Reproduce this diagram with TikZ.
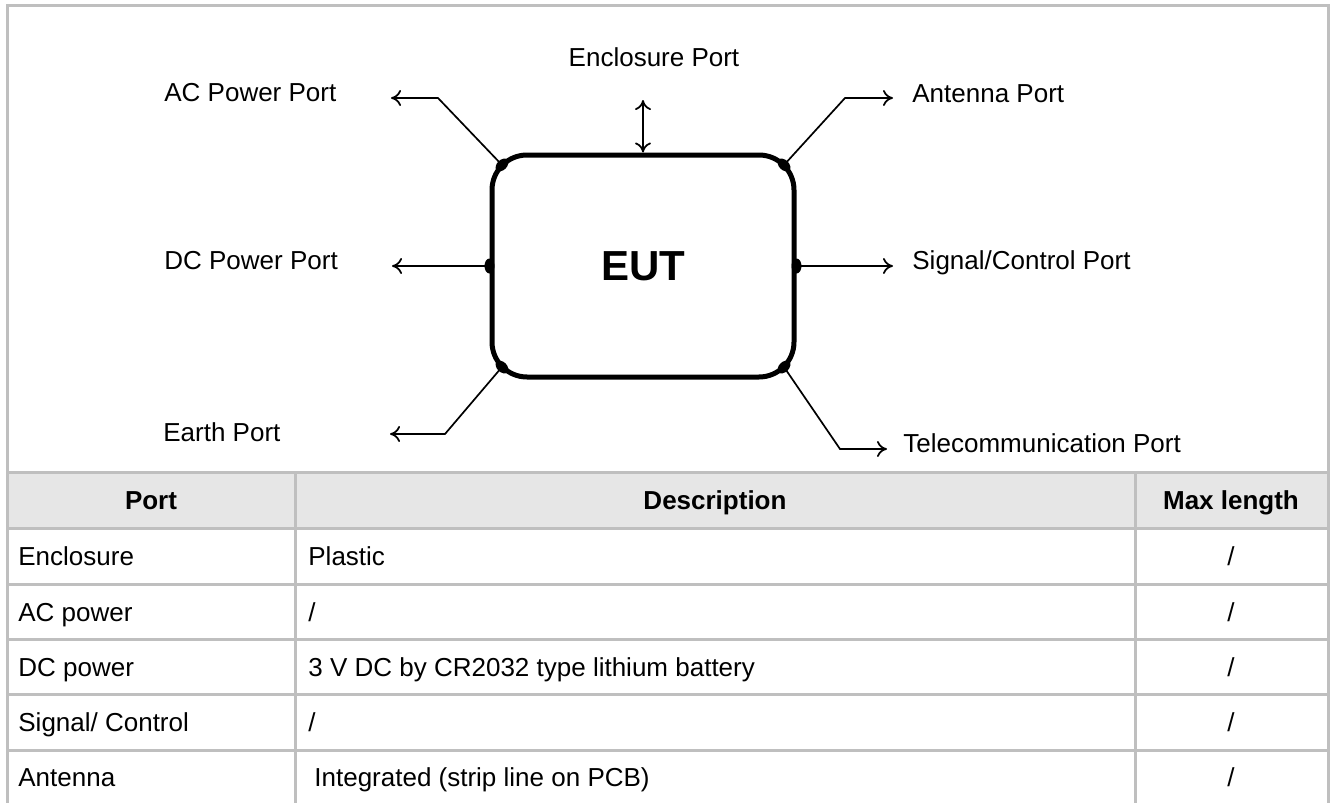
\documentclass[tikz,border=0pt]{standalone}
\usepackage{fontspec}
\setmainfont{Liberation Sans}
\usetikzlibrary{arrows.meta,shapes.geometric}
\definecolor{gridgray}{HTML}{BFBFBF}
\definecolor{headgray}{HTML}{E6E6E6}
\tikzset{
  labeltext/.style={font=\fontsize{13}{15}\selectfont, inner sep=0pt},
  headtext/.style={font=\fontsize{13}{15}\selectfont\bfseries, inner sep=0pt},
  portdot/.style={ellipse, fill=black, inner sep=0pt, minimum width=5pt, minimum height=7.5pt},
  portline/.style={line width=0.85pt},
  gridline/.style={gridgray, line width=1.5pt},
}

\begin{document}
\begin{tikzpicture}[x=0.5pt, y=-0.5pt, >={To[length=5pt,width=8pt]}]
    \useasboundingbox (0,0) rectangle (1335,803);

    % Table header
    \fill[headgray] (7,472) rectangle (1328,528);

    % Frame and grid
    \draw[gridline] (7,803) -- (7,5) -- (1328,5) -- (1328,803);
    \draw[gridline] (7,472) -- (1328,472);
    \draw[gridline] (7,528) -- (1328,528);
    \draw[gridline] (7,584) -- (1328,584);
    \draw[gridline] (7,639) -- (1328,639);
    \draw[gridline] (7,694) -- (1328,694);
    \draw[gridline] (7,750) -- (1328,750);
    \draw[gridline] (295,472) -- (295,803);
    \draw[gridline] (1135,472) -- (1135,803);

    % EUT
    \node[draw, line width=2.5pt, rounded corners=17.5pt, minimum width=151pt, minimum height=111pt,
          font=\fontsize{21}{25}\selectfont\bfseries] (eut) at (643,266) {EUT};

    % Port dots
    \node[portdot, rotate=-45] (dtl) at (502,165) {};
    \node[portdot, rotate=45] (dtr) at (784,165) {};
    \node[portdot] (dl) at (eut.west) {};
    \node[portdot] (dr) at (eut.east) {};
    \node[portdot, rotate=45] (dbl) at (502,367) {};
    \node[portdot, rotate=-45] (dbr) at (784,367) {};

    % Labels
    \node[labeltext, anchor=base] (enclab) at (654,67) {Enclosure Port};
    \node[labeltext, anchor=base west] (aclab) at (164,101) {AC Power Port};
    \node[labeltext, anchor=base west] (dclab) at (164,269) {DC Power Port};
    \node[labeltext, anchor=base west] (earthlab) at (163,441) {Earth Port};
    \node[labeltext, anchor=base west] (antlab) at (912,102) {Antenna Port};
    \node[labeltext, anchor=base west] (siglab) at (912,269) {Signal/Control Port};
    \node[labeltext, anchor=base west] (telelab) at (903,452) {Telecommunication Port};

    % Connectors
    \coordinate (acbend) at (438,98);
    \coordinate (acend) at (391,98);
    \coordinate (encend) at (643,100);
    \coordinate (antbend) at (845,98);
    \coordinate (antend) at (893,98);
    \coordinate (dcend) at (392,266);
    \coordinate (sigend) at (893,266);
    \coordinate (earthbend) at (445,434);
    \coordinate (earthend) at (390,434);
    \coordinate (telebend) at (840,449);
    \coordinate (teleend) at (887,449);
    \draw[portline, ->] (dtl.center) -- (acbend) -- (acend);
    \draw[portline, <->] (encend) -- (eut.north);
    \draw[portline, ->] (dtr.center) -- (antbend) -- (antend);
    \draw[portline, ->] (dl.center) -- (dcend);
    \draw[portline, ->] (dr.center) -- (sigend);
    \draw[portline, ->] (dbl.center) -- (earthbend) -- (earthend);
    \draw[portline, ->] (dbr.center) -- (telebend) -- (teleend);

    % Table text
    \node[headtext, anchor=base] (hport) at (151,509) {Port};
    \node[headtext, anchor=base] (hdesc) at (715,509) {Description};
    \node[headtext, anchor=base] (hmax) at (1231,509) {Max length};

    \node[labeltext, anchor=base west] (pencl) at (18,565) {Enclosure};
    \node[labeltext, anchor=base west] (dencl) at (308,565) {Plastic};
    \node[labeltext, anchor=base] (mencl) at (1231,565) {/};

    \node[labeltext, anchor=base west] (pac) at (18,621) {AC power};
    \node[labeltext, anchor=base west] (dac) at (308,621) {/};
    \node[labeltext, anchor=base] (mac) at (1231,621) {/};

    \node[labeltext, anchor=base west] (pdc) at (18,676) {DC power};
    \node[labeltext, anchor=base west] (ddc) at (308,676) {3 V DC by CR2032 type lithium battery};
    \node[labeltext, anchor=base] (mdc) at (1231,676) {/};

    \node[labeltext, anchor=base west] (psig) at (18,731) {Signal/ Control};
    \node[labeltext, anchor=base west] (dsig) at (308,731) {/};
    \node[labeltext, anchor=base] (msig) at (1231,731) {/};

    \node[labeltext, anchor=base west] (pant) at (18,786) {Antenna};
    \node[labeltext, anchor=base west] (dant) at (314,786) {Integrated (strip line on PCB)};
    \node[labeltext, anchor=base] (mant) at (1231,786) {/};
\end{tikzpicture}
\end{document}
